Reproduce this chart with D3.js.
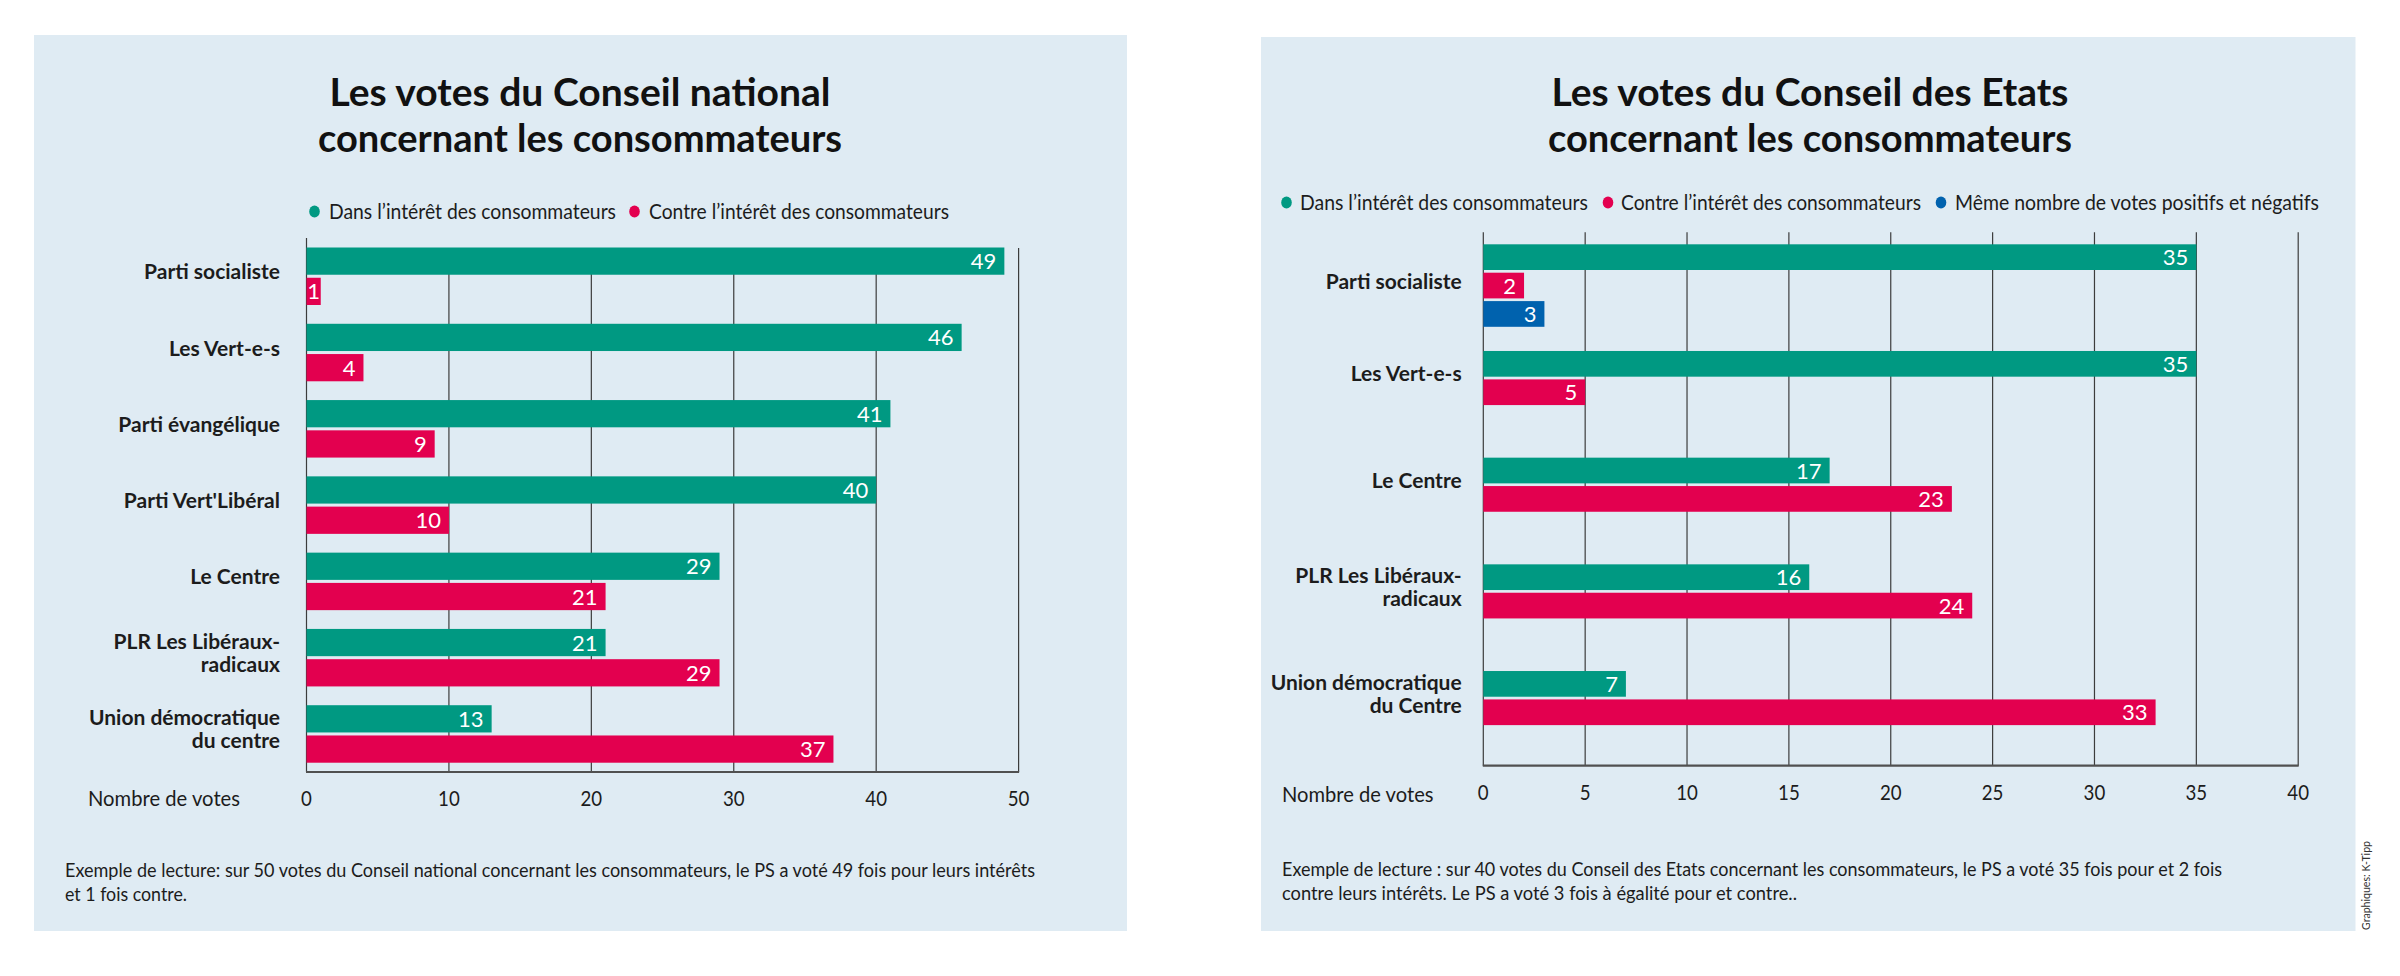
<!DOCTYPE html>
<html>
<head>
<meta charset="utf-8">
<script src="https://cdn.jsdelivr.net/npm/d3@7"></script>
<style>
  html, body { margin: 0; padding: 0; background: #ffffff; }
  svg { display: block; }
  text { font-family: "Lato", "Open Sans", sans-serif; }
</style>
</head>
<body>
<svg id="chart" width="2400" height="976"></svg>
<script>
// ---------- DATA ----------
const seriesNames = [
  "Dans l’intérêt des consommateurs",
  "Contre l’intérêt des consommateurs",
  "Même nombre de votes positifs et négatifs"
];

// Conseil national
const ncTitle = ["Les votes du Conseil national", "concernant les consommateurs"];
const ncCategories = [
  "Parti socialiste",
  "Les Vert-e-s",
  "Parti évangélique",
  "Parti Vert'Libéral",
  "Le Centre",
  "PLR Les Libéraux-\nradicaux",
  "Union démocratique\ndu centre"
];
const ncPour = [49, 46, 41, 40, 29, 21, 13];
const ncContre = [1, 4, 9, 10, 21, 29, 37];
const ncTicks = [0, 10, 20, 30, 40, 50];
const ncNote = [
  "Exemple de lecture: sur 50 votes du Conseil national concernant les consommateurs, le PS a voté 49 fois pour leurs intérêts",
  "et 1 fois contre."
];

// Conseil des Etats
const ceTitle = ["Les votes du Conseil des Etats", "concernant les consommateurs"];
const ceCategories = [
  "Parti socialiste",
  "Les Vert-e-s",
  "Le Centre",
  "PLR Les Libéraux-\nradicaux",
  "Union démocratique\ndu Centre"
];
const cePour = [35, 35, 17, 16, 7];
const ceContre = [2, 5, 23, 24, 33];
const ceEgal = [3, null, null, null, null];
const ceTicks = [0, 5, 10, 15, 20, 25, 30, 35, 40];
const ceNote = [
  "Exemple de lecture : sur 40 votes du Conseil des Etats concernant les consommateurs, le PS a voté 35 fois pour et 2 fois",
  "contre leurs intérêts. Le PS a voté 3 fois à égalité pour et contre.."
];

const axisLabel = "Nombre de votes";
const credit = "Graphiques: K-Tipp";

// ---------- STYLE ----------
const colors = ["#009982", "#e3004f", "#0062ae"];
const bg = "#dfebf3";
const ink = "#1c1c1c";

const svg = d3.select("#chart");

function fitWidth(sel, w) {
  sel.attr("textLength", w).attr("lengthAdjust", "spacingAndGlyphs");
}
function condense(sel, k) {
  sel.each(function () {
    const n = this.getComputedTextLength();
    d3.select(this).attr("textLength", n * k).attr("lengthAdjust", "spacingAndGlyphs");
  });
}

function drawChart(cfg) {
  const g = svg.append("g");
  // panel
  g.append("rect")
    .attr("x", cfg.panel[0]).attr("y", cfg.panel[1])
    .attr("width", cfg.panel[2]).attr("height", cfg.panel[3])
    .attr("fill", bg);

  // title
  cfg.title.forEach((t, i) => {
    g.append("text")
      .attr("x", cfg.titleX).attr("y", cfg.titleY[i])
      .attr("text-anchor", "middle")
      .attr("font-size", 39).attr("font-weight", 700)
      .attr("fill", "#111")
      .text(t)
      .call(fitWidth, cfg.titleW[i]);
  });

  // legend
  cfg.series.forEach((s, i) => {
    g.append("ellipse")
      .attr("cx", cfg.legend.dots[i]).attr("cy", cfg.legend.y - 7.5)
      .attr("rx", 5.3).attr("ry", 6).attr("fill", colors[i]);
    g.append("text")
      .attr("x", cfg.legend.texts[i][0]).attr("y", cfg.legend.y)
      .attr("font-size", 21).attr("fill", ink)
      .text(seriesNames[i])
      .call(fitWidth, cfg.legend.texts[i][1]);
  });

  // scales
  const x = d3.scaleLinear().domain(d3.extent(cfg.ticks)).range([cfg.x0, cfg.x1]);
  const y = d3.scaleBand().domain(cfg.categories).range([cfg.yTop, cfg.yBottom]).padding(0);
  const sub = d3.scaleBand().domain(d3.range(cfg.series.length))
    .range(cfg.subRange).paddingInner(cfg.subPad);

  // grid lines
  g.append("g").selectAll("line").data(cfg.ticks).join("line")
    .attr("x1", d => x(d)).attr("x2", d => x(d))
    .attr("y1", d => d === 0 ? cfg.yTop : cfg.gridTop)
    .attr("y2", cfg.yBottom)
    .attr("stroke", "#3c3c3c").attr("stroke-width", 1.2);

  // bars
  const rows = [];
  cfg.categories.forEach((c, ci) => {
    cfg.series.forEach((s, si) => {
      if (s[ci] != null) rows.push({ cat: c, si: si, v: s[ci] });
    });
  });
  const bars = g.append("g");
  bars.selectAll("rect").data(rows).join("rect")
    .attr("x", x(0))
    .attr("y", d => y(d.cat) + sub(d.si))
    .attr("width", d => x(d.v) - x(0))
    .attr("height", sub.bandwidth())
    .attr("fill", d => colors[d.si]);
  bars.selectAll("text").data(rows).join("text")
    .attr("y", d => y(d.cat) + sub(d.si) + sub.bandwidth() / 2 + 8)
    .attr("font-size", 22).attr("fill", "#fff")
    .text(d => d.v)
    .each(function (d) {
      const w = x(d.v) - x(0);
      const t = d3.select(this);
      if (w < 30) {
        t.attr("x", x(0) + w / 2).attr("text-anchor", "middle");
      } else {
        t.attr("x", x(d.v) - 8).attr("text-anchor", "end");
      }
    });

  // bottom axis line
  g.append("line")
    .attr("x1", x(0) - 0.5).attr("x2", x(d3.max(cfg.ticks)) + 0.5)
    .attr("y1", cfg.yBottom).attr("y2", cfg.yBottom)
    .attr("stroke", "#505050").attr("stroke-width", 2.2);

  // tick labels
  g.append("g").selectAll("text").data(cfg.ticks).join("text")
    .attr("x", d => x(d)).attr("y", cfg.tickY)
    .attr("text-anchor", "middle")
    .attr("font-size", 22).attr("fill", ink)
    .text(d => d)
    .call(condense, 0.85);

  g.append("text")
    .attr("x", cfg.axisLabel[0]).attr("y", cfg.axisLabel[1])
    .attr("text-anchor", "end")
    .attr("font-size", 21).attr("fill", ink)
    .text(axisLabel)
    .call(fitWidth, cfg.axisLabel[2]);

  // category labels
  cfg.categories.forEach((c, ci) => {
    const present = cfg.series.map((s, si) => s[ci] != null ? si : null).filter(v => v != null);
    const top = y(c) + sub(present[0]);
    const bot = y(c) + sub(present[present.length - 1]) + sub.bandwidth();
    const cy = (top + bot) / 2;
    const lines = c.split("\n");
    lines.forEach((ln, li) => {
      g.append("text")
        .attr("x", cfg.labelX)
        .attr("y", cy + 3 + (li - (lines.length - 1) / 2) * 23)
        .attr("text-anchor", "end")
        .attr("font-size", 21).attr("font-weight", 700)
        .attr("fill", ink)
        .text(ln);
    });
  });

  // footnote
  cfg.note.forEach((t, i) => {
    g.append("text")
      .attr("x", cfg.noteX).attr("y", cfg.noteY[i])
      .attr("font-size", 18.5).attr("fill", ink)
      .text(t)
      .call(fitWidth, cfg.noteW[i]);
  });
}

drawChart({
  panel: [34, 35, 1093, 896],
  title: ncTitle, titleX: 580, titleY: [106, 152], titleW: [501, 524],
  series: [ncPour, ncContre],
  legend: { y: 219, dots: [314.5, 634.5], texts: [[329, 287], [649, 300]] },
  categories: ncCategories, ticks: ncTicks,
  x0: 306.5, x1: 1018.6,
  yTop: 238, yBottom: 772, gridTop: 248,
  subRange: [9.5, 67], subPad: 0.1,
  tickY: 805.5,
  axisLabel: [240, 806, 152],
  labelX: 280,
  note: ncNote, noteX: 65, noteY: [876.5, 900.5], noteW: [970, 122]
});

drawChart({
  panel: [1261, 37, 1094.5, 894],
  title: ceTitle, titleX: 1810, titleY: [106, 152], titleW: [517, 524],
  series: [cePour, ceContre, ceEgal],
  legend: { y: 210, dots: [1286.5, 1608, 1941], texts: [[1300, 288], [1621, 300], [1955, 364]] },
  categories: ceCategories, ticks: ceTicks,
  x0: 1483.3, x1: 2298.2,
  yTop: 232.3, yBottom: 765.7, gridTop: 232.3,
  subRange: [12, 94.5], subPad: 0.095,
  tickY: 799.5,
  axisLabel: [1433.5, 801.5, 151.5],
  labelX: 1461.7,
  note: ceNote, noteX: 1282, noteY: [876, 899.5], noteW: [940, 515]
});

// credit (vertical)
svg.append("text")
  .attr("transform", "translate(2370,930) rotate(-90)")
  .attr("font-size", 11).attr("fill", "#333")
  .attr("font-family", "Liberation Sans, Arial, sans-serif")
  .text(credit)
  .call(fitWidth, 89);
</script>
</body>
</html>
